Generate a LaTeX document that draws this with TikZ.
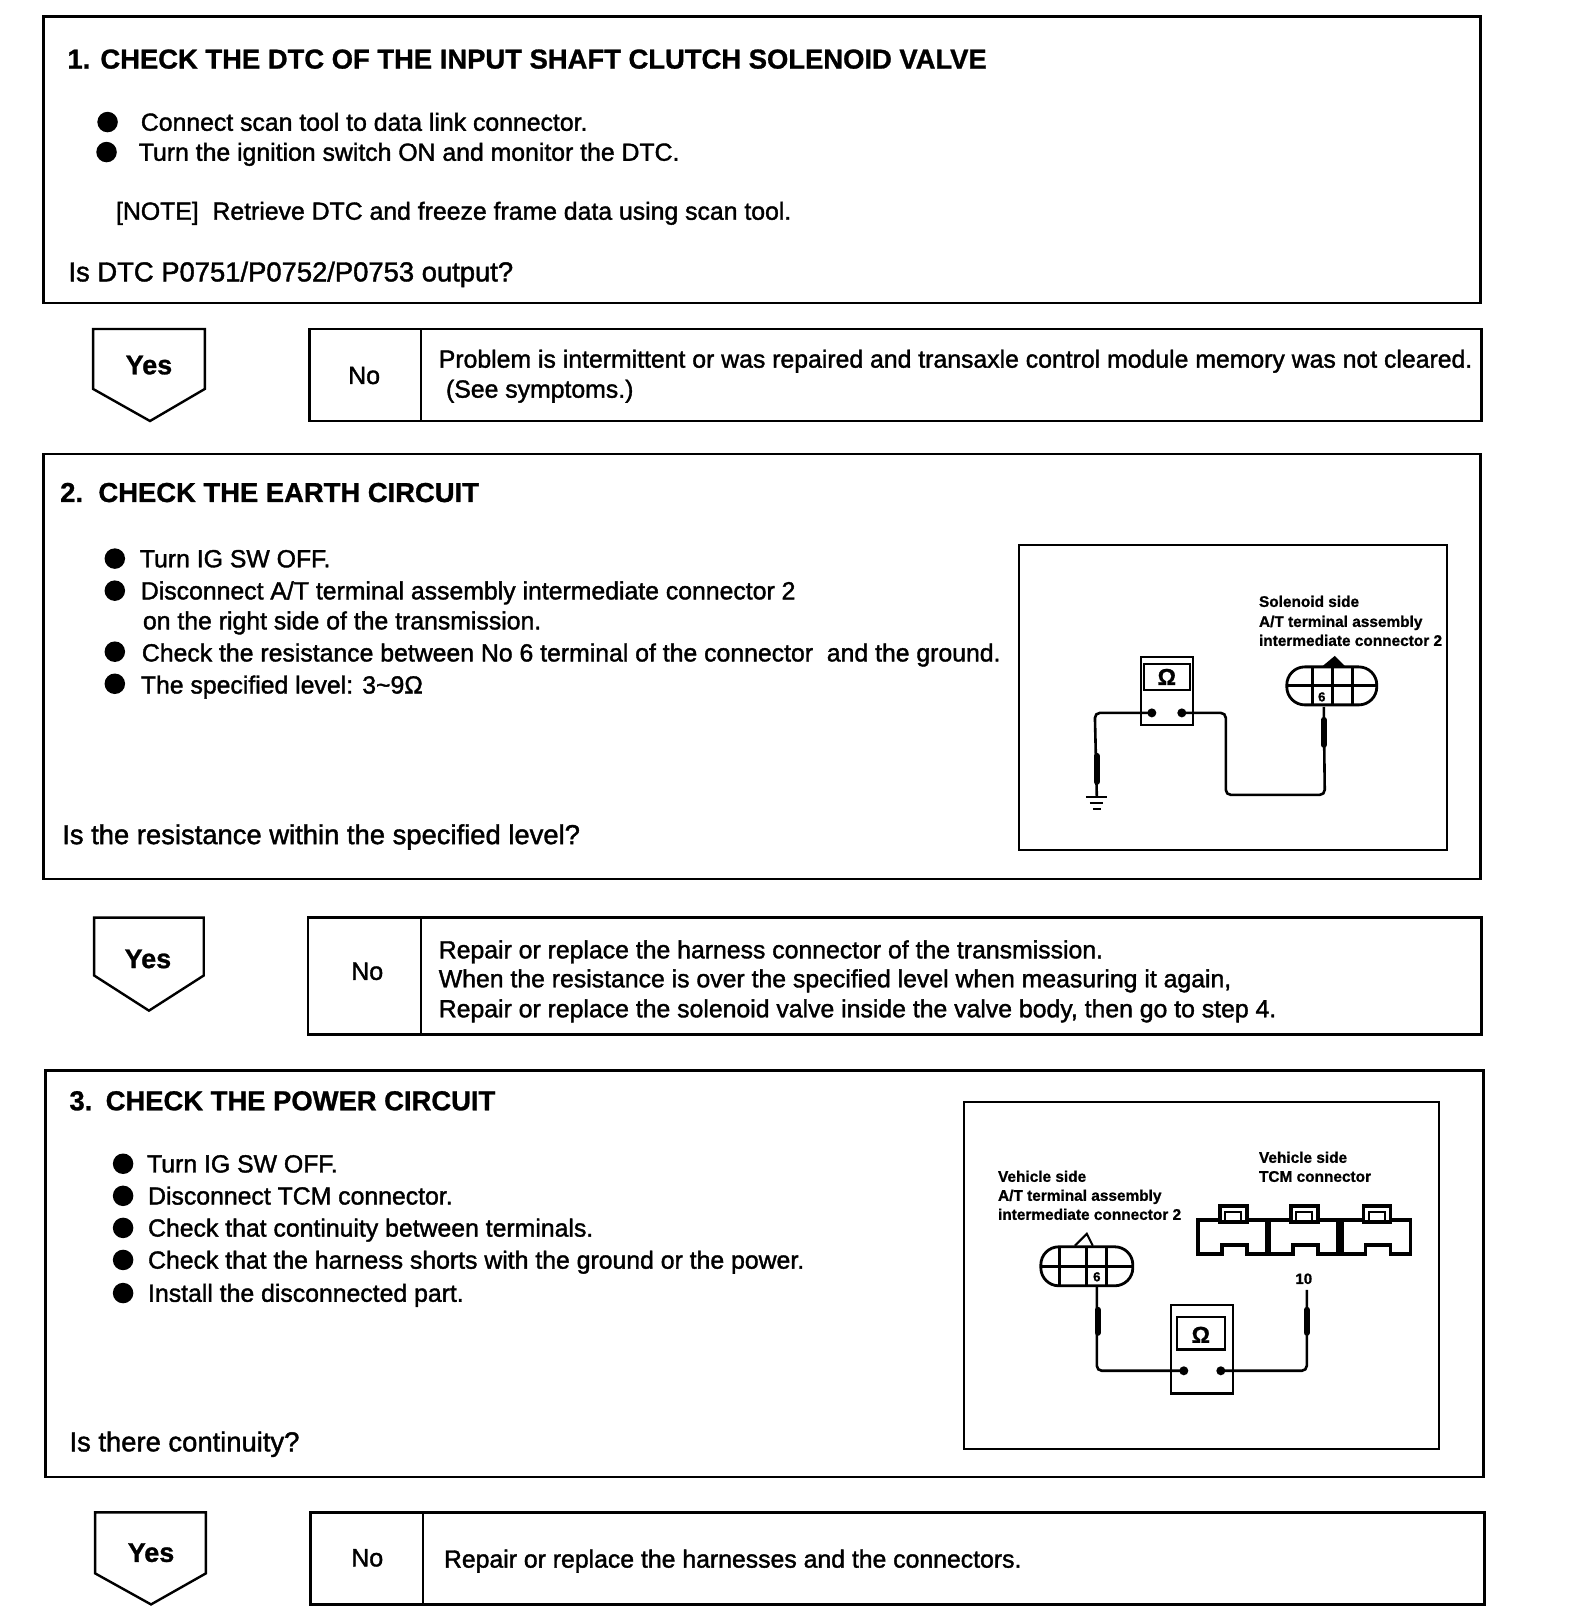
\documentclass[tikz,border=0pt]{standalone}
\usepackage{fontspec}
\setmainfont{Liberation Sans}
\newfontfamily\bodyfont[FakeBold=1.5]{Liberation Sans}
\newfontfamily\headfont[FakeBold=1]{Liberation Sans Bold}
\begin{document}
\begin{tikzpicture}[x=1.0346pt,y=-1.0346pt,
  frame/.style={draw=black,line width=2.4pt,fill=white},
  txt/.style={anchor=base west,inner sep=0pt,font=\bodyfont\fontsize{24.8}{24.8}\selectfont,yshift=-8.7pt},
  ask/.style={anchor=base west,inner sep=0pt,font=\bodyfont\fontsize{27.4}{27.4}\selectfont,yshift=-9.3pt},
  head/.style={anchor=base west,inner sep=0pt,font=\headfont\fontsize{27.4}{27.4}\selectfont,yshift=-9.6pt},
  yesno/.style={inner sep=0pt,font=\bodyfont\fontsize{25}{25}\selectfont},
  yeslab/.style={inner sep=0pt,font=\headfont\fontsize{27}{27}\selectfont},
  small/.style={anchor=base west,inner sep=0pt,font=\headfont\fontsize{15.4}{15.4}\selectfont,yshift=-5pt},
  bul/.style={circle,fill=black,draw=none,minimum size=20.5pt,inner sep=0pt},
  wire/.style={draw=black,line width=2.6pt,rounded corners=5pt},
  probe/.style={draw=black,line width=6pt,line cap=round},
  meter/.style={draw=black,line width=2.6pt,fill=white},
  pin/.style={circle,fill=black,minimum size=9pt,inner sep=0pt},
  conn/.style={draw=black,line width=2.8pt},
  tcm/.style={draw=black,line width=3.4pt,fill=white}]
\useasboundingbox (0,0) rectangle (1531,1568);
\fill[white] (0,0) rectangle (1531,1568);
% --- step 1
\draw[frame] (42,16) rectangle (1431,293);
\node[head] (t1) at (65,57) {1. CHECK THE DTC OF THE INPUT SHAFT CLUTCH SOLENOID VALVE};
\node[bul] (b11) at (104,118) {};
\node[bul] (b12) at (103,147) {};
\node[txt] (s11) at (136,118) {Connect scan tool to data link connector.};
\node[txt] (s12) at (134,147) {Turn the ignition switch ON and monitor the DTC.};
\node[txt] (n1) at (112,204) {[NOTE]\ \ Retrieve DTC and freeze frame data using scan tool.};
\node[ask] (q1) at (66,263) {Is DTC P0751/P0752/P0753 output?};
\draw[frame] (90,318) -- (198,318) -- (198,376) -- (145,407) -- (90,376) -- cycle;
\node[yeslab] (y1) at (144,353) {Yes};
\draw[frame] (299,318) rectangle (1432,407);
\draw[frame] (407,318) -- (407,407);
\node[yesno] (no1) at (352,363) {No};
\node[txt] (a11) at (424,347) {Problem is intermittent or was repaired and transaxle control module memory was not cleared.};
\node[txt] (a12) at (431,376) {(See symptoms.)};
% --- step 2
\draw[frame] (42,439) rectangle (1431,850);
\node[head] (t2a) at (58,476) {2.};
\node[head] (t2) at (95,476) {CHECK THE EARTH CIRCUIT};
\foreach \yy/\nn in {540/a,571/b,630/c,661/d}{\node[bul] (b2\nn) at (111,\yy) {};}
\node[txt] (s21) at (135,540) {Turn IG SW OFF.};
\node[txt] (s22) at (136,571) {Disconnect A/T terminal assembly intermediate connector 2};
\node[txt] (s23) at (138,600) {on the right side of the transmission.};
\node[txt] (s24) at (137,631) {Check the resistance between No 6 terminal of the connector\ \ and the ground.};
\node[txt] (s25) at (136,662) {The specified level: 3\textasciitilde 9Ω};
\node[ask] (q2) at (60,807) {Is the resistance within the specified level?};
\draw[frame] (91,887) -- (197,887) -- (197,943) -- (144,977) -- (91,943) -- cycle;
\node[yeslab] (y2) at (143,927) {Yes};
\draw[frame] (298,887) rectangle (1432,1000);
\draw[frame] (407,887) -- (407,1000);
\node[yesno] (no2) at (355,939) {No};
\node[txt] (a21) at (424,918) {Repair or replace the harness connector of the transmission.};
\node[txt] (a22) at (424,946) {When the resistance is over the specified level when measuring it again,};
\node[txt] (a23) at (424,975) {Repair or replace the solenoid valve inside the valve body, then go to step 4.};
% --- step 3
\draw[frame] (44,1035) rectangle (1434,1428);
\node[head] (t3a) at (67,1064) {3.};
\node[head] (t3) at (102,1064) {CHECK THE POWER CIRCUIT};
\foreach \yy/\nn in {1125/a,1156/b,1187/c,1218/d,1250/e}{\node[bul] (b3\nn) at (119,\yy) {};}
\node[txt] (s31) at (142,1125) {Turn IG SW OFF.};
\node[txt] (s32) at (143,1156) {Disconnect TCM connector.};
\node[txt] (s33) at (143,1187) {Check that continuity between terminals.};
\node[txt] (s34) at (143,1218) {Check that the harness shorts with the ground or the power.};
\node[txt] (s35) at (143,1250) {Install the disconnected part.};
\node[ask] (q3) at (67,1394) {Is there continuity?};
\draw[frame] (92,1462) -- (199,1462) -- (199,1521) -- (146,1551) -- (92,1521) -- cycle;
\node[yeslab] (y3) at (146,1501) {Yes};
\draw[frame] (300,1462) rectangle (1435,1551);
\draw[frame] (409,1462) -- (409,1551);
\node[yesno] (no3) at (355,1506) {No};
\node[txt] (a31) at (429,1507) {Repair or replace the harnesses and the connectors.};
% --- inset for step 2 (full-size pixel coordinates)
\begin{scope}[x=1pt,y=-1pt]
\draw[frame] (1019,545) rectangle (1447,850);
\draw[meter] (1141,657) rectangle (1193,725);
\draw[meter] (1144,664) rectangle (1190,690);
\node[inner sep=0pt,font=\headfont\fontsize{23}{23}\selectfont] (om2) at (1167,677) {Ω};
\node[pin] (p2l) at (1152,713) {};
\node[pin] (p2r) at (1182,713) {};
\coordinate (g2) at (1097,797);
\path[wire] (p2l.center) -- (1095,713) -- (g2);
\draw[probe] (1097,756) -- (1097,782);
\draw[line width=2.6pt] (1086,797) -- (1107,797) (1090,803) -- (1103,803) (1093,809) -- (1101,809);
\draw[conn,rounded corners=18pt] (1287,667) rectangle (1377,705);
\draw[conn] (1313,667) -- (1313,705) (1333,667) -- (1333,705) (1353,667) -- (1353,705) (1287,686) -- (1377,686);
\fill (1323,666) -- (1335,656) -- (1345,666) -- cycle;
\node[inner sep=0pt,fill=white,font=\headfont\fontsize{13}{13}\selectfont] (c26) at (1322,697) {6};
\coordinate (t2c) at (1324,707);
\path[wire] (p2r.center) -- (1226,713) -- (1226,795) -- (1325,795) -- (t2c);
\draw[probe] (1324,720) -- (1324,745);
\node[small] (l21) at (1259,602) {Solenoid side};
\node[small] (l22) at (1259,622) {A/T terminal assembly};
\node[small] (l23) at (1259,641) {intermediate connector 2};
% --- inset for step 3
\draw[frame] (964,1102) rectangle (1439,1449);
\draw[meter] (1171,1305) rectangle (1233,1394);
\draw[meter] (1177,1317) rectangle (1225,1350);
\node[inner sep=0pt,font=\headfont\fontsize{23}{23}\selectfont] (om3) at (1201,1335) {Ω};
\node[pin] (p3l) at (1184,1371) {};
\node[pin] (p3r) at (1221,1371) {};
\draw[conn,rounded corners=18pt] (1041,1247) rectangle (1133,1286);
\draw[conn] (1060,1247) -- (1060,1286) (1087,1247) -- (1087,1286) (1107,1247) -- (1107,1286) (1041,1267) -- (1133,1267);
\draw[conn,line width=2pt] (1075,1246) -- (1087,1234) -- (1093,1246);
\node[inner sep=0pt,font=\headfont\fontsize{13}{13}\selectfont] (c36) at (1097,1277) {6};
\coordinate (t3c) at (1097,1287);
\path[wire] (p3l.center) -- (1097,1371) -- (t3c);
\draw[probe] (1098,1310) -- (1098,1333);
\coordinate (t3d) at (1307,1290);
\path[wire] (p3r.center) -- (1307,1371) -- (t3d);
\draw[probe] (1307,1310) -- (1307,1333);
\node[inner sep=0pt,font=\headfont\fontsize{15}{15}\selectfont] (t10) at (1304,1279) {10};
\node[small] (l31) at (998,1177) {Vehicle side};
\node[small] (l32) at (998,1196) {A/T terminal assembly};
\node[small] (l33) at (998,1215) {intermediate connector 2};
\node[small] (l34) at (1259,1158) {Vehicle side};
\node[small] (l35) at (1259,1177) {TCM connector};
\foreach \xx in {1198,1269,1342}{
  \begin{scope}[shift={(\xx,1220)}]
    \draw[tcm] (0,0) -- (69,0) -- (69,34) -- (49,34) -- (49,25) -- (24,25) -- (24,34) -- (0,34) -- cycle;
    \draw[tcm] (22,-14) rectangle (49,2);
    \draw[draw=black,line width=2pt,fill=white] (27,-8) rectangle (43,1);
  \end{scope}}
\end{scope}
\end{tikzpicture}
\end{document}
